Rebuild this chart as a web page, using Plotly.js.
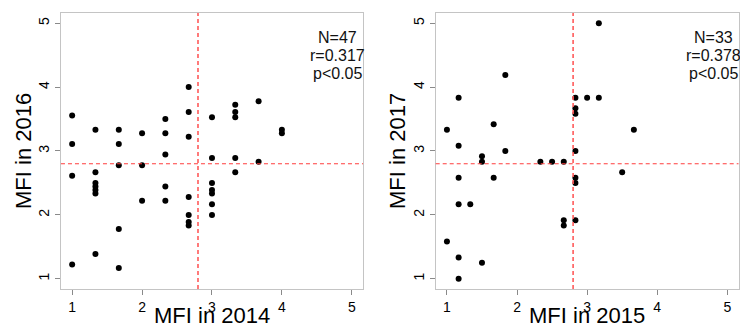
<!DOCTYPE html>
<html>
<head>
<meta charset="utf-8">
<script src="https://cdn.plot.ly/plotly-3.0.1.min.js"></script>
<style>html,body{margin:0;padding:0;background:#fff}#chart{width:740px;height:324px}</style>
</head>
<body>
<div id="chart"></div>
<script>
// Left panel: MFI in 2014 vs MFI in 2016
const x2014 = [1,1,1,1,
  1.333,1.333,1.333,1.333,1.333,1.333,1.333,
  1.667,1.667,1.667,1.667,1.667,
  2,2,2,
  2.333,2.333,2.333,2.333,2.333,
  2.667,2.667,2.667,2.667,2.667,2.667,2.667,
  3,3,3,3,3,3,3,
  3.333,3.333,3.333,3.333,3.333,
  3.667,3.667,
  4,4];
const y2016 = [3.556,3.111,2.611,1.222,
  3.333,2.667,2.5,2.444,2.389,2.333,1.389,
  3.333,3.111,2.778,1.778,1.167,
  3.278,2.778,2.222,
  3.5,3.278,2.944,2.444,2.222,
  4.0,3.611,3.222,2.278,2.0,1.889,1.833,
  3.528,2.889,2.5,2.389,2.333,2.167,2.0,
  3.722,3.611,3.528,2.889,2.667,
  3.778,2.833,
  3.333,3.278];
// Right panel: MFI in 2015 vs MFI in 2017
const x2015 = [1,1,1.167,1.167,1.167,1.167,1.167,1.167,1.333,1.5,1.5,1.5,1.667,1.667,1.833,1.833,
  2.333,2.5,2.667,2.667,2.667,2.833,2.833,2.833,2.833,2.833,2.833,2.833,3.0,3.167,3.167,3.5,3.667];
const y2017 = [3.333,1.583,3.833,3.083,2.583,2.167,1.333,1.0,2.167,2.917,2.833,1.25,3.417,2.583,4.19,3.0,
  2.833,2.833,2.833,1.917,1.833,3.833,3.667,3.583,3.0,2.583,2.5,1.917,3.833,5.0,3.833,2.667,3.333];
const cutoff = 2.8;
const tickVals = [1,2,3,4,5];
const statsLeft = ["N=47","r=0.317","p<0.05"];
const statsRight = ["N=33","r=0.378","p<0.05"];
const titles = {x1:"MFI in 2014", y1:"MFI in 2016", x2:"MFI in 2015", y2:"MFI in 2017"};

const FONT = "Liberation Sans, Arial, sans-serif";
const marker = {color:"#000", size:6};
const traces = [
  {x:x2014, y:y2016, type:"scatter", mode:"markers", marker:marker, xaxis:"x", yaxis:"y", hoverinfo:"x+y"},
  {x:x2015, y:y2017, type:"scatter", mode:"markers", marker:marker, xaxis:"x2", yaxis:"y2", hoverinfo:"x+y"}
];

function xa(domain){
  return {domain:domain, range:[0.84,5.16], tickvals:tickVals, ticks:"outside", ticklen:5, tickwidth:1,
    tickcolor:"#8a8a8a", showline:true, mirror:true, linecolor:"#c4c4c4", linewidth:1, showgrid:false,
    zeroline:false, tickfont:{size:14, color:"#000", family:FONT}, automargin:false};
}
function ya(anchor){
  return {domain:[0.108,0.96], anchor:anchor, range:[0.84,5.16], tickvals:tickVals, ticks:"outside", ticklen:5,
    tickwidth:1, tickcolor:"#8a8a8a", tickangle:-90, showline:true, mirror:true, linecolor:"#c4c4c4", linewidth:1,
    showgrid:false, zeroline:false, tickfont:{size:14, color:"#000", family:FONT}, automargin:false};
}

const shapes = [];
[["x","y"],["x2","y2"]].forEach(([xr,yr])=>{
  shapes.push({type:"line", xref:xr, yref:yr+" domain", x0:cutoff, x1:cutoff, y0:0, y1:1,
    line:{color:"#ff5a5a", width:1.6, dash:"4px,3px"}});
  shapes.push({type:"line", xref:xr+" domain", yref:yr, x0:0, x1:1, y0:cutoff, y1:cutoff,
    line:{color:"#ff3d3d", width:1, dash:"4px,3px"}});
});

const annotations = [];
function addStats(lines, xr, yr){
  lines.forEach((t,i)=>{
    annotations.push({text:t, xref:xr, yref:yr, x:4.8, y:4.77 - i*0.28, showarrow:false,
      xanchor:"center", yanchor:"middle", font:{size:16, family:FONT, color:"#111"}});
  });
}
addStats(statsLeft,"x","y");
addStats(statsRight,"x2","y2");

// axis titles (placed as text in paper coordinates)
const titleFont = {size:22, family:FONT, color:"#000"};
[[titles.x1,"x domain"],[titles.x2,"x2 domain"]].forEach(([t,xr])=>{
  annotations.push({text:t, xref:xr, yref:"paper", x:0.5, y:1-315/324, showarrow:false,
    xanchor:"center", yanchor:"middle", font:titleFont});
});
[[titles.y1, 24/740],[titles.y2, 398/740]].forEach(([t,px])=>{
  annotations.push({text:t, xref:"paper", yref:"y domain", x:px, y:0.5, showarrow:false, textangle:-90,
    xanchor:"center", yanchor:"middle", font:titleFont});
});

const layout = {
  width:740, height:324, margin:{l:0,r:0,t:0,b:0}, showlegend:false,
  paper_bgcolor:"#fff", plot_bgcolor:"#fff", font:{family:FONT},
  xaxis: Object.assign(xa([0.0824,0.4905]), {anchor:"y"}),
  yaxis: ya("x"),
  xaxis2: Object.assign(xa([0.5888,0.998]), {anchor:"y2"}),
  yaxis2: ya("x2"),
  shapes:shapes, annotations:annotations
};
Plotly.newPlot("chart", traces, layout, {staticPlot:true});
</script>
</body>
</html>
